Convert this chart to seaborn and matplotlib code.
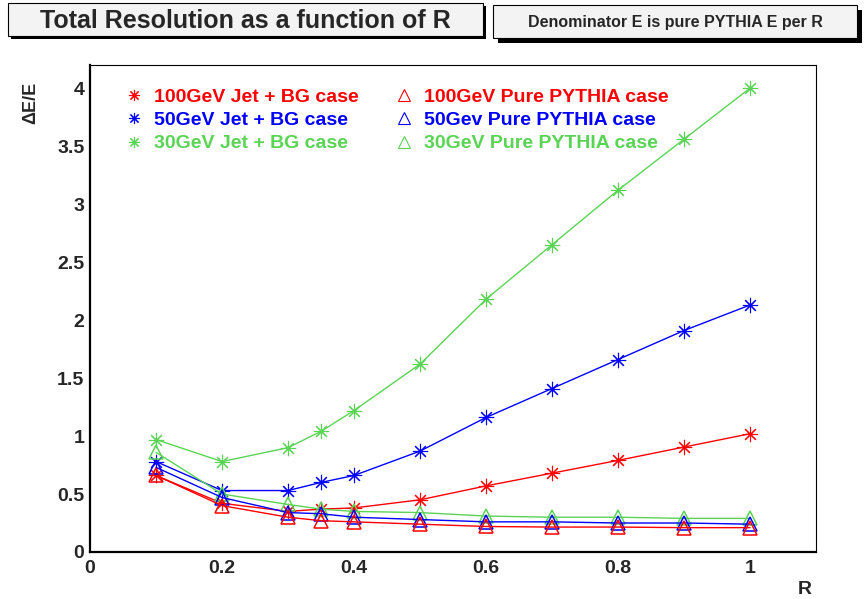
import matplotlib
matplotlib.use("Agg")
import matplotlib.pyplot as plt
from matplotlib.patches import Rectangle
from matplotlib.lines import Line2D
from matplotlib.ticker import MultipleLocator
import seaborn as sns
import pandas as pd

# ---------------- data ----------------
r_values = [0.1, 0.2, 0.3, 0.35, 0.4, 0.5, 0.6, 0.7, 0.8, 0.9, 1.0]
jet100 = [0.66, 0.42, 0.35, 0.37, 0.38, 0.45, 0.57, 0.68, 0.79, 0.905, 1.02]
jet50 = [0.78, 0.53, 0.53, 0.60, 0.66, 0.87, 1.16, 1.41, 1.66, 1.91, 2.13]
jet30 = [0.97, 0.78, 0.90, 1.04, 1.22, 1.62, 2.18, 2.65, 3.12, 3.56, 4.0]
pure100 = [0.66, 0.40, 0.30, 0.27, 0.26, 0.24, 0.22, 0.215, 0.215, 0.21, 0.21]
pure50 = [0.73, 0.47, 0.34, 0.33, 0.30, 0.28, 0.26, 0.26, 0.25, 0.25, 0.24]
pure30 = [0.86, 0.50, 0.41, 0.37, 0.35, 0.34, 0.31, 0.30, 0.30, 0.29, 0.29]

labels = ["100GeV Jet + BG case", "50GeV Jet + BG case", "30GeV Jet + BG case",
          "100GeV Pure PYTHIA case", "50Gev Pure PYTHIA case", "30GeV Pure PYTHIA case"]
series = [jet100, jet50, jet30, pure100, pure50, pure30]

title_text = "Total Resolution as a function of R"
subtitle_text = "Denominator E is pure PYTHIA E per R"
x_label = "R"
y_label = "\u0394E/E"

RED, BLUE, GREEN = "#ff0000", "#0000ff", "#59d454"
colors = [RED, BLUE, GREEN, RED, BLUE, GREEN]
STAR = (8, 2, 0)
markers = [STAR, STAR, STAR, "^", "^", "^"]

df = pd.concat([pd.DataFrame({"R": r_values, "val": s, "series": lab})
                for s, lab in zip(series, labels)], ignore_index=True)

# ---------------- figure ----------------
sns.set_style("white")
plt.rcParams["font.family"] = ["Liberation Sans", "DejaVu Sans"]
plt.rcParams["font.weight"] = "bold"

W, H = 868, 599
fig = plt.figure(figsize=(W / 100, H / 100), dpi=100)
fig.patch.set_facecolor("white")

L, R_, T, B = 90, 816, 65, 552
ax = fig.add_axes([L / W, 1 - B / H, (R_ - L) / W, (B - T) / H])

draw_order = [0, 1, 2, 5, 4, 3]
for i in draw_order:
    lab = labels[i]
    sub = df[df["series"] == lab]
    filled = markers[i] != "^"
    sns.lineplot(data=sub, x="R", y="val", ax=ax, color=colors[i], lw=1.0,
                 marker=markers[i], markersize=11 if filled else 10,
                 markerfacecolor=colors[i] if filled else "none",
                 markeredgecolor=colors[i], markeredgewidth=0.8 if filled else 1.1,
                 legend=False, estimator=None, sort=False)

ax.set_xlim(0, 1.1)
ax.set_ylim(0, 4.2)
ax.xaxis.set_major_locator(MultipleLocator(0.2))
ax.xaxis.set_minor_locator(MultipleLocator(0.05))
ax.yaxis.set_major_locator(MultipleLocator(0.5))
ax.yaxis.set_minor_locator(MultipleLocator(0.1))
ax.set_xticks([0, 0.2, 0.4, 0.6, 0.8, 1.0])
ax.set_xticklabels(["0", "0.2", "0.4", "0.6", "0.8", "1"])
ax.set_yticks([0, 0.5, 1, 1.5, 2, 2.5, 3, 3.5, 4])
ax.set_yticklabels(["0", "0.5", "1", "1.5", "2", "2.5", "3", "3.5", "4"])
ax.set_xlabel("")
ax.set_ylabel("")

ax.tick_params(axis="x", which="major", direction="in", length=10.5, width=0.8,
               color="#333333", labelsize=14, pad=6)
ax.tick_params(axis="x", which="minor", direction="in", length=5.3, width=0.8, color="#333333")
ax.tick_params(axis="y", which="major", direction="in", length=15.7, width=0.8,
               color="#333333", labelsize=14, pad=4)
ax.tick_params(axis="y", which="minor", direction="in", length=7.9, width=0.8, color="#333333")
for lbl in ax.get_xticklabels() + ax.get_yticklabels():
    lbl.set_fontweight("bold")

for side in ["left", "bottom"]:
    ax.spines[side].set_linewidth(1.6)
    ax.spines[side].set_color("black")
for side in ["top", "right"]:
    ax.spines[side].set_linewidth(0.8)
    ax.spines[side].set_color("black")

# axis labels
fig.text(805 / W, 1 - 589 / H, x_label, ha="center", va="center", fontsize=14, fontweight="bold")
fig.text(31 / W, 1 - 103 / H, y_label, ha="center", va="center", rotation=90,
         fontsize=13, fontweight="bold")

# legend
handles = []
for i in range(6):
    filled = markers[i] != "^"
    handles.append(Line2D([], [], linestyle="none", marker=markers[i], markersize=8,
                          markerfacecolor=colors[i] if filled else "none",
                          markeredgecolor=colors[i], markeredgewidth=0.8))
leg = ax.legend(handles, labels, ncol=2, frameon=False, loc="upper left",
                bbox_to_anchor=(124 / W, 1 - 88 / H), bbox_transform=fig.transFigure,
                handlelength=1.0, handletextpad=0.55, columnspacing=1.8,
                labelspacing=0.3, borderpad=0, borderaxespad=0,
                prop={"size": 14, "weight": "bold"})
for txt, c in zip(leg.get_texts(), colors):
    txt.set_color(c)

# title boxes
def box(x0, y0, x1, y1, sh, shadow_col):
    fig.patches.append(Rectangle(((x0 + sh) / W, 1 - (y1 + sh) / H), (x1 - x0) / W, (y1 - y0) / H,
                                 transform=fig.transFigure, facecolor=shadow_col,
                                 edgecolor="none", zorder=1))
    fig.patches.append(Rectangle((x0 / W, 1 - y1 / H), (x1 - x0) / W, (y1 - y0) / H,
                                 transform=fig.transFigure, facecolor="#f3f3f3",
                                 edgecolor="black", linewidth=0.8, zorder=2))

box(8, 3, 483, 36, 3, "black")
box(493, 5, 857, 38, 5, "black")
fig.text((8 + 483) / 2 / W, 1 - 21 / H, title_text, ha="center", va="center",
         fontsize=18, fontweight="bold", zorder=3)
fig.text((493 + 857) / 2 / W, 1 - 22.5 / H, subtitle_text, ha="center", va="center",
         fontsize=11.5, fontweight="bold", zorder=3)

fig.savefig("out.png", dpi=100, facecolor="white")
